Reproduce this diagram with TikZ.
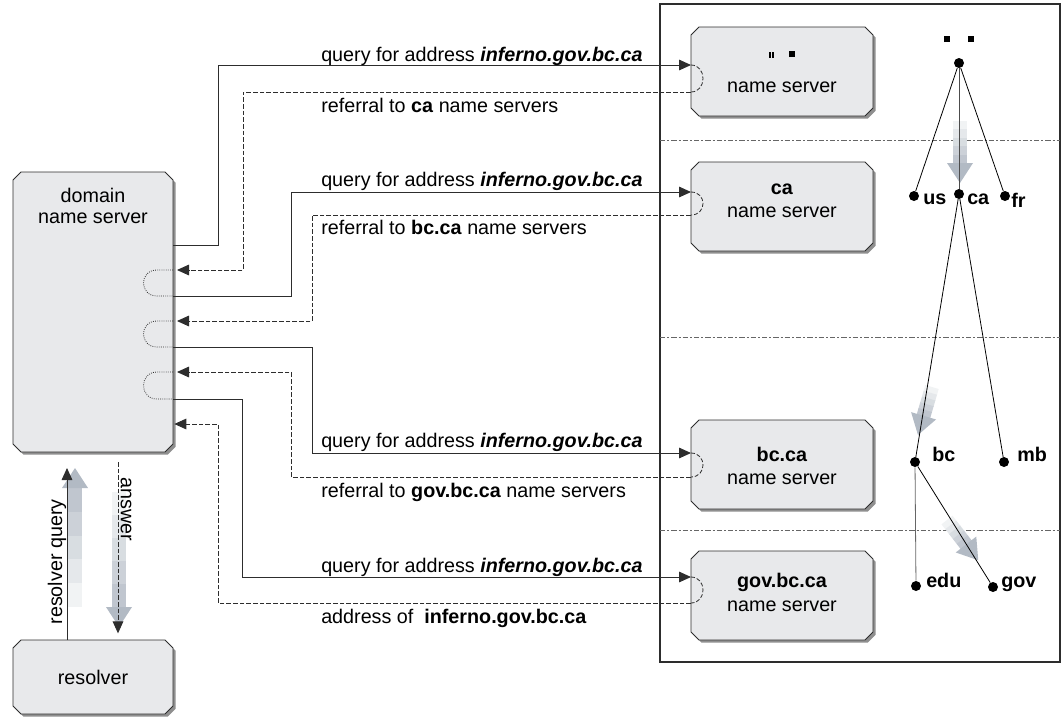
\documentclass[tikz,border=0pt]{standalone}
\usepackage{fontspec}
\setmainfont{Liberation Sans}
\usetikzlibrary{shadows,arrows.meta}
\definecolor{boxfill}{RGB}{232,233,235}
\definecolor{linec}{RGB}{45,45,45}
\definecolor{fatc}{RGB}{178,186,196}
\newcommand\fatarrow[4]{\begin{scope}[shift={(#1,#2)},rotate=#3]
  \pgfmathsetmacro\fatseg{(#4-20)/5}
  \foreach \i/\c in {0/18,1/34,2/50,3/66,4/82}{\fill[fatc!\c] ({\i*\fatseg},-7) rectangle ({(\i+1)*\fatseg+0.6},7);}
  \fill[fatc] ({#4-20},-13) -- (#4,0) -- ({#4-20},13) -- cycle;
\end{scope}}
\newcommand\chbox[1]{\draw[boxsty] ([xshift=6pt]#1.north west) -- ([xshift=-6pt]#1.north east) -- ([yshift=-6pt]#1.north east) -- ([yshift=6pt]#1.south east) -- ([xshift=-6pt]#1.south east) -- ([xshift=6pt]#1.south west) -- ([yshift=6pt]#1.south west) -- ([yshift=-6pt]#1.north west) -- cycle;}
\begin{document}
\begin{tikzpicture}[x=0.75pt,y=-0.75pt,
  font=\fontsize{14.8}{17.25}\selectfont,
  anch/.style={rectangle, inner sep=0pt, outer sep=0pt},
  srv/.style={anch, minimum width=136.5pt, minimum height=66.75pt},
  boxsty/.style={draw=linec, fill=boxfill, line width=0.7pt,
     drop shadow={shadow xshift=2pt, shadow yshift=-2pt, fill=black!55, opacity=0.8}},
  txt/.style={anchor=base, inner sep=0pt},
  lbl/.style={anchor=base west, inner sep=0pt},
  tip/.style={-{Triangle[length=9pt,width=8pt]}},
  qline/.style={draw=linec, line width=0.7pt, tip},
  rline/.style={draw=linec, line width=0.7pt, dash pattern=on 3.5pt off 1.5pt, tip},
  loopd/.style={draw=linec, line width=0.6pt, densely dotted},
  loopn/.style={draw=linec, line width=0.6pt, dash pattern=on 3pt off 1.5pt},
  sep/.style={draw=black!60, line width=0.7pt, dash pattern=on 4pt off 1.5pt on 1.5pt off 1.5pt},
  dot/.style={circle, fill=black, inner sep=0pt, minimum size=7.5pt},
  tline/.style={draw=black, line width=0.6pt},
  tlab/.style={anchor=base west, inner sep=0pt, font=\fontsize{14.8}{17.25}\selectfont\bfseries}]
\useasboundingbox (0,0) rectangle (1061,719);

% right panel
\draw[linec, line width=0.8pt] (660,4) rectangle (1060,662);
\draw[sep] (660,140) -- (1060,140);
\draw[sep] (660,337) -- (1060,337);
\draw[sep] (660,530) -- (1060,530);

% anchors for boxes
\node[anch, minimum width=120pt, minimum height=210pt] (dns) at (93,312) {};
\node[anch, minimum width=120pt, minimum height=55.5pt] (res) at (93,677) {};
\node[srv] (root) at (782,71.5) {};
\node[srv] (ca) at (782,206.5) {};
\node[srv] (bc) at (782,464.5) {};
\node[srv] (gov) at (782,595.5) {};

\chbox{dns}
\chbox{res}
\chbox{root}
\chbox{ca}
\chbox{bc}
\chbox{gov}

% box texts
\node[txt] (dnst1) at (93,202) {domain};
\node[txt] (dnst2) at (93,223) {name server};
\node[txt] (rest) at (93,684) {resolver};
\node[txt] (roott1) at (782,69) {\raisebox{1.1ex}{\rule{1.4pt}{4.5pt}\hspace{1.2pt}\rule{1.4pt}{4.5pt}}\hspace{0.75em}\raisebox{1.15ex}{\rule{4.5pt}{4.5pt}}};
\node[txt] (roott2) at (782,92) {name server};
\node[txt] (cat1) at (782,194) {\textbf{ca}};
\node[txt] (cat2) at (782,217) {name server};
\node[txt] (bct1) at (782,461) {\textbf{bc.ca}};
\node[txt] (bct2) at (782,484) {name server};
\node[txt] (govt1) at (782,587) {\textbf{gov.bc.ca}};
\node[txt] (govt2) at (782,611) {name server};

% fat gray arrows
\fatarrow{75}{607}{90}{139}
\fatarrow{119}{492}{-90}{135}
\fatarrow{960}{121}{-90}{62}
\fatarrow{932}{387}{-106.3}{50}
\fatarrow{947}{520}{-52.2}{51}

% resolver <-> dns
\draw[qline, shorten >=12pt] (res.north -| 67,0) -- (dns.south -| 67,0);
\draw[rline, shorten <=7.5pt, shorten >=5pt] (dns.south -| 118,0) -- (res.north -| 118,0);
\node[rotate=90, inner sep=0pt] (rq) at (57,562) {resolver query};
\node[rotate=-90, inner sep=0pt] (ans) at (126,509) {answer};

% queries and referrals
\draw[qline] (dns.east |- 0,245) -| (218,65) -- (root.west |- 0,65);
\draw[rline, shorten >=3pt] (root.west |- 0,92) -| (243,270) -- (dns.east |- 0,270);
\draw[qline] (dns.east |- 0,296) -| (291,192) -- (ca.west |- 0,192);
\draw[rline, shorten >=3pt] (ca.west |- 0,215) -| (312,321) -- (dns.east |- 0,321);
\draw[qline] (dns.east |- 0,347) -| (312,453) -- (bc.west |- 0,453);
\draw[rline, shorten >=3pt] (bc.west |- 0,477) -| (291,372) -- (dns.east |- 0,372);
\draw[qline] (dns.east |- 0,399) -| (242,577) -- (gov.west |- 0,577);
\draw[rline, shorten >=1pt] (gov.west |- 0,603) -| (218,424) -- (dns.east |- 0,424);

% loops in dns
\draw[loopd] (dns.east |- 0,270) -- (157,270) .. controls (139,270) and (139,296) .. (157,296) -- (dns.east |- 0,296);
\draw[loopd] (dns.east |- 0,321) -- (157,321) .. controls (139,321) and (139,347) .. (157,347) -- (dns.east |- 0,347);
\draw[loopd] (dns.east |- 0,372) -- (157,372) .. controls (139,372) and (139,399) .. (157,399) -- (dns.east |- 0,399);

% loops in name servers
\draw[loopn] (root.west |- 0,65) .. controls (707,65) and (707,92) .. (root.west |- 0,92);
\draw[loopn] (ca.west |- 0,192) .. controls (707,192) and (707,215) .. (ca.west |- 0,215);
\draw[loopn] (bc.west |- 0,453) .. controls (707,453) and (707,477) .. (bc.west |- 0,477);
\draw[loopn] (gov.west |- 0,577) .. controls (707,577) and (707,603) .. (gov.west |- 0,603);

% arrow labels
\node[lbl] (l1) at (321,61) {query for address \textbf{\textit{inferno.gov.bc.ca}}};
\node[lbl] (l2) at (321,112) {referral to \textbf{ca} name servers};
\node[lbl] (l3) at (321,186) {query for address \textbf{\textit{inferno.gov.bc.ca}}};
\node[lbl] (l4) at (321,234) {referral to \textbf{bc.ca} name servers};
\node[lbl] (l5) at (321,447) {query for address \textbf{\textit{inferno.gov.bc.ca}}};
\node[lbl] (l6) at (321,497) {referral to \textbf{gov.bc.ca} name servers};
\node[lbl] (l7) at (321,572) {query for address \textbf{\textit{inferno.gov.bc.ca}}};
\node[lbl] (l8) at (321,623) {address of \ \textbf{inferno.gov.bc.ca}};

% tree
\node[dot] (t0) at (959,63) {};
\node[dot] (tus) at (914,196) {};
\node[dot] (tca) at (959,194) {};
\node[dot] (tfr) at (1005,196) {};
\node[dot] (tbc) at (915,462) {};
\node[dot] (tmb) at (1004,462) {};
\node[dot] (tedu) at (916,586) {};
\node[dot] (tgov) at (993,587) {};
\draw[tline] (t0) -- (tus);
\draw[tline, draw=black!70] (t0) -- (tca);
\draw[tline] (t0) -- (tfr);
\draw[tline] (tca) -- (tbc);
\draw[tline] (tca) -- (tmb);
\draw[tline, draw=black!60] (tbc) -- (tedu);
\draw[tline] (tbc) -- (tgov);
\node[inner sep=0pt] (troot) at (959,39) {\rule{4.5pt}{4.5pt}\hspace{13pt}\rule{4.5pt}{4.5pt}};
\node[tlab] (lus) at (923,204) {us};
\node[tlab] (lca) at (967,204) {ca};
\node[tlab] (lfr) at (1011,207) {fr};
\node[tlab] (lbc) at (932,461) {bc};
\node[tlab] (lmb) at (1017,461) {mb};
\node[tlab] (ledu) at (926,587) {edu};
\node[tlab] (lgov) at (1001,587) {gov};
\end{tikzpicture}
\end{document}
